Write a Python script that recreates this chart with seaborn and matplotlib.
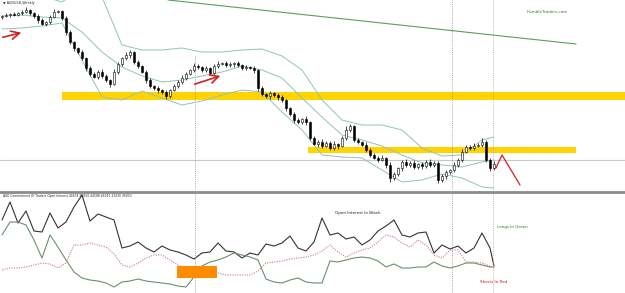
import numpy as np
import pandas as pd
import seaborn as sns
import matplotlib.pyplot as plt

# weekly AUDUSD closes (one per bar)
closes = [1.048, 1.050, 1.052, 1.050, 1.054, 1.056, 1.060, 1.054, 1.048, 1.040,
          1.032, 1.036, 1.046, 1.056, 1.058, 1.044, 1.016, 0.996, 0.984, 0.976,
          0.964, 0.944, 0.932, 0.926, 0.936, 0.928, 0.920, 0.912, 0.936, 0.952,
          0.964, 0.970, 0.976, 0.956, 0.948, 0.936, 0.920, 0.908, 0.904, 0.900,
          0.896, 0.888, 0.900, 0.908, 0.916, 0.924, 0.932, 0.940, 0.948, 0.946,
          0.940, 0.944, 0.934, 0.948, 0.952, 0.954, 0.950, 0.952, 0.954, 0.950,
          0.944, 0.946, 0.944, 0.940, 0.904, 0.892, 0.888, 0.894, 0.890, 0.886,
          0.880, 0.864, 0.852, 0.840, 0.836, 0.842, 0.836, 0.804, 0.792, 0.796,
          0.788, 0.794, 0.784, 0.792, 0.788, 0.804, 0.820, 0.828, 0.800, 0.796,
          0.790, 0.780, 0.770, 0.764, 0.760, 0.764, 0.750, 0.724, 0.732, 0.744,
          0.756, 0.750, 0.754, 0.746, 0.752, 0.748, 0.756, 0.750, 0.754, 0.720,
          0.728, 0.736, 0.740, 0.750, 0.760, 0.776, 0.786, 0.784, 0.788, 0.790,
          0.796, 0.760, 0.744, 0.752]
first_open = 1.046
# wick lengths above / below the body, in thousandths
wick_hi = [3, 4, 2, 5, 3, 4, 6, 3, 2, 4, 5, 3, 4, 6, 3, 2, 5, 4, 3, 3,
           4, 2, 5, 3, 4, 6, 3, 2, 5, 4, 3, 6, 4, 2, 5, 3, 4, 3, 2, 4,
           3, 5, 2, 4, 3, 5, 4, 3, 6, 4, 3, 5, 2, 4, 6, 3, 4, 5, 3, 4,
           2, 5, 3, 4, 3, 5, 2, 4, 3, 5, 4, 2, 3, 5, 4, 3, 6, 2, 4, 3,
           5, 3, 4, 6, 2, 4, 8, 5, 3, 4, 2, 5, 3, 4, 3, 6, 2, 5, 4, 3,
           4, 6, 3, 5, 2, 4, 3, 6, 4, 3, 5, 4, 3, 6, 4, 5, 3, 4, 6, 3,
           8, 4, 3, 5]
wick_lo = [4, 3, 5, 3, 2, 4, 3, 5, 4, 6, 3, 5, 4, 3, 2, 4, 6, 3, 5, 4,
           3, 6, 4, 3, 5, 4, 3, 6, 2, 4, 3, 4, 5, 3, 4, 3, 5, 4, 3, 6,
           4, 5, 3, 2, 4, 3, 5, 3, 4, 3, 4, 3, 5, 4, 3, 2, 4, 3, 5, 4,
           3, 4, 2, 5, 6, 4, 3, 5, 4, 6, 4, 5, 3, 6, 4, 3, 5, 4, 3, 6,
           4, 3, 5, 4, 6, 3, 4, 3, 5, 4, 3, 4, 5, 3, 4, 3, 6, 8, 4, 3,
           5, 4, 3, 4, 3, 5, 4, 3, 4, 6, 4, 5, 3, 4, 3, 4, 3, 5, 4, 3,
           4, 5, 6, 4]

# bollinger bands read at every 5th week
band_weeks = [0, 5, 10, 15, 20, 25, 30, 35, 40, 45, 50, 55, 60, 65, 70, 75, 80,
              85, 90, 95, 100, 105, 110, 115, 120, 123]
band_upper = [1.090, 1.090, 1.088, 1.076, 1.104, 1.086, 0.990, 0.980, 0.980, 0.984,
              0.976, 0.976, 0.980, 0.982, 0.968, 0.940, 0.880, 0.840, 0.830, 0.830,
              0.820, 0.784, 0.768, 0.770, 0.800, 0.806]
band_mid = [1.048, 1.050, 1.046, 1.044, 1.016, 0.976, 0.946, 0.928, 0.916, 0.920,
            0.928, 0.936, 0.948, 0.940, 0.924, 0.884, 0.846, 0.810, 0.800, 0.788,
            0.770, 0.754, 0.750, 0.746, 0.756, 0.760]
band_lower = [1.022, 1.024, 1.028, 1.034, 0.960, 0.886, 0.880, 0.898, 0.884, 0.870,
              0.878, 0.890, 0.900, 0.896, 0.856, 0.820, 0.770, 0.766, 0.764, 0.740,
              0.716, 0.720, 0.732, 0.724, 0.706, 0.704]

# support / resistance zones and trend line
zone_start = [15, 76.5]
zone_end = [160, 143.5]
zone_lo = [0.880, 0.774]
zone_hi = [0.896, 0.786]
trend_weeks = [41.5, 143.5]
trend_price = [1.080, 0.992]
last_price = 0.760
marker_weeks = [48.25, 112.5, 122.75]

# red arrows drawn on the chart (tail week, tail price, tip week, tip price)
arrows = [(-0.5, 1.004, 5.5, 1.016), (47.5, 0.910, 55.25, 0.930)]
forecast_weeks = [123.5, 125.0, 129.5]
forecast_price = [0.744, 0.770, 0.710]

# COT indicator, thousands of contracts, every 2nd week
cot_weeks = list(range(0, 123, 2)) + [123]
open_interest = [73, 91, 70, 82, 62, 61, 80, 65, 71, 86, 98, 72, 79, 76, 73, 45, 47, 51, 45, 41,
                 47, 43, 41, 38, 34, 40, 41, 50, 42, 41, 35, 40, 38, 49, 47, 50, 57, 45, 42, 51,
                 75, 58, 60, 54, 56, 48, 53, 62, 67, 73, 58, 56, 60, 61, 40, 48, 44, 47, 40, 45,
                 60, 45, 27]
longs = [58, 71, 71, 68, 53, 35, 58, 46, 33, 21, 15, 13, 12, 10, 6, 11, 12, 14, 12, 11,
         10, 9, 7, 6, 16, 27, 31, 33, 36, 40, 38, 36, 33, 14, 11, 10, 13, 15, 11, 10,
         10, 32, 31, 33, 35, 36, 35, 32, 26, 29, 25, 25, 26, 26, 31, 27, 25, 27, 30, 30,
         28, 26, 26]
shorts = [23, 25, 25, 26, 28, 30, 29, 25, 30, 48, 48, 50, 48, 46, 39, 28, 26, 30, 35, 38,
          38, 33, 28, 25, 23, 21, 20, 20, 18, 18, 18, 18, 22, 30, 31, 32, 34, 35, 36, 38,
          42, 48, 41, 36, 40, 43, 45, 51, 58, 56, 50, 46, 53, 48, 38, 35, 43, 43, 31, 31,
          30, 27, 25]
highlight_weeks = [43.75, 53.75]
highlight_range = [15, 27]

sns.set_style("white")
plt.rcParams['font.family'] = ['DejaVu Sans']

fig = plt.figure(figsize=(6.25, 2.93), dpi=100)
ax1 = fig.add_axes([0, 103 / 293, 1, 190 / 293])
ax2 = fig.add_axes([0, 0, 1, 101 / 293])

# --- price panel ---
c = np.array(closes)
o = np.array([first_open] + closes[:-1])
hi = np.maximum(o, c) + np.array(wick_hi) / 1000
lo = np.minimum(o, c) - np.array(wick_lo) / 1000
weeks = np.arange(len(c))

for s, e, a, b in zip(zone_start, zone_end, zone_lo, zone_hi):
    ax1.fill_between([s, e], a, b, color='#FFD400', lw=0, zorder=1)

ax1.axhline(last_price, color='#c8c8c8', lw=0.8, zorder=0)
ax1.plot(trend_weeks, trend_price, color='#5c9e5c', lw=0.8)
ax1.axvline(marker_weeks[0], ymax=0.71, color='#8a8a8a', lw=0.6, ls=(0, (1, 1.5)))
ax1.axvline(marker_weeks[1], color='#8a8a8a', lw=0.6, ls=(0, (1, 1.5)))
ax1.axvline(marker_weeks[2], color='#c99a9a', lw=0.6, ls=(0, (1, 1.5)))

bands = pd.DataFrame({'week': band_weeks, 'upper': band_upper, 'mid': band_mid, 'lower': band_lower})
for col in ['upper', 'mid', 'lower']:
    sns.lineplot(data=bands, x='week', y=col, ax=ax1, color='#8fc4ba', lw=0.7, zorder=2)

ax1.vlines(weeks, lo, hi, color='black', lw=0.5, zorder=3)
bull = c >= o
body = np.maximum(np.abs(c - o), 0.0015)
ax1.bar(weeks, body, bottom=np.minimum(o, c), width=0.42,
        color=np.where(bull, 'white', 'black'), edgecolor='black', linewidth=0.4, zorder=4)

for x0, y0, x1, y1 in arrows:
    ax1.annotate('', xy=(x1, y1), xytext=(x0, y0),
                 arrowprops=dict(arrowstyle='->', color='#cc2222', lw=1.2, mutation_scale=15))
ax1.plot(forecast_weeks, forecast_price, color='#cc2222', lw=0.9)

ax1.text(0.005, 0.984, '\u25bc AUDUSD,Weekly', transform=ax1.transAxes, fontsize=2.4, va='center')
ax1.text(0.843, 0.935, 'HumbleTraders.com', transform=ax1.transAxes, fontsize=3,
         color='#3c7a3c', va='center')

ax1.set_xlim(-0.5, 155.75)
ax1.set_ylim(0.700, 1.080)

# --- COT panel ---
cot = pd.DataFrame({'week': cot_weeks, 'oi': open_interest, 'longs': longs, 'shorts': shorts})
sns.lineplot(data=cot, x='week', y='oi', ax=ax2, color='#333333', lw=0.8)
sns.lineplot(data=cot, x='week', y='longs', ax=ax2, color='#6c8f6c', lw=0.8)
sns.lineplot(data=cot, x='week', y='shorts', ax=ax2, color='#d07a7a', lw=0.8, ls=(0, (1, 1.2)))
ax2.fill_between(highlight_weeks, highlight_range[0], highlight_range[1], color='#FF8C00', lw=0, zorder=5)
for i, w in enumerate(marker_weeks):
    ax2.axvline(w, color='#8a8a8a' if i < 2 else '#c99a9a', lw=0.6, ls=(0, (1, 1.5)))

ax2.text(0.005, 0.965, 'AUD Commitment Of Traders Open Interest 44674 36050 44588 46015 23230 36053',
         transform=ax2.transAxes, fontsize=2.2, va='center')
ax2.text(0.536, 0.792, 'Open Interest In Black', transform=ax2.transAxes, fontsize=3, va='center')
ax2.text(0.795, 0.653, 'Longs In Green', transform=ax2.transAxes, fontsize=3, va='center', color='#2e7d2e')
ax2.text(0.768, 0.109, 'Shorts In Red', transform=ax2.transAxes, fontsize=3, va='center', color='#c02020')

ax2.set_xlim(-0.5, 155.75)
ax2.set_ylim(0, 101)

for ax in (ax1, ax2):
    ax.set_xticks([])
    ax.set_yticks([])
    ax.set_xlabel('')
    ax.set_ylabel('')
    for sp in ax.spines.values():
        sp.set_visible(False)
ax2.spines['top'].set_visible(True)
ax2.spines['top'].set_color('#8c8c8c')
ax2.spines['top'].set_linewidth(2)

fig.savefig('out.png', dpi=100)
